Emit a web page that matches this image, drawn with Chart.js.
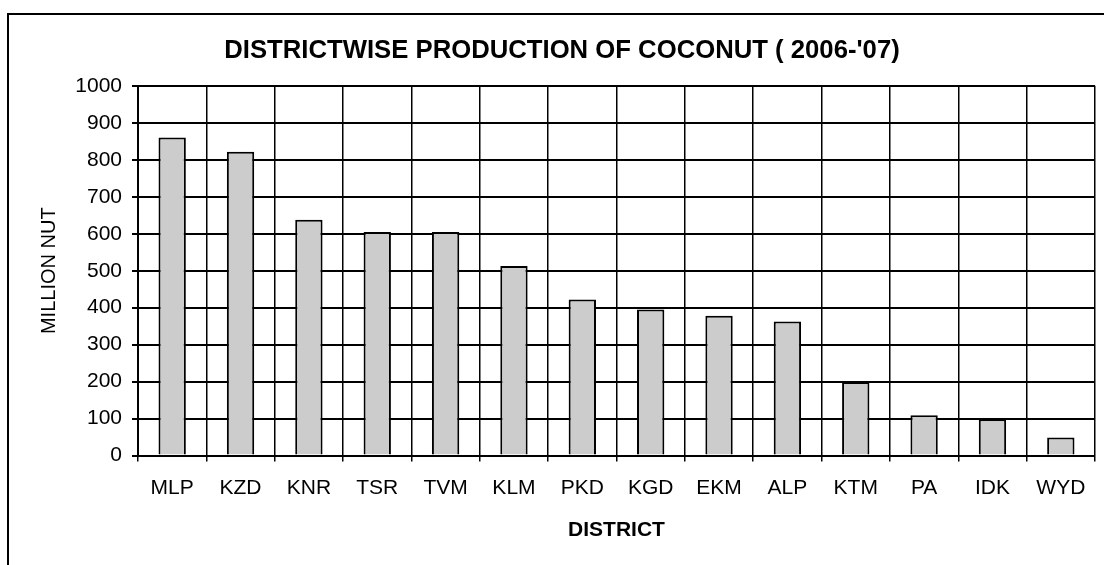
<!DOCTYPE html>
<html>
<head>
<meta charset="utf-8">
<script src="https://cdn.jsdelivr.net/npm/chart.js@4"></script>
<style>
    html, body {
        margin: 0;
        padding: 0;
        background: #ffffff;
        overflow: hidden;
    }
    #wrap {
        position: relative;
        width: 1104px;
        height: 565px;
    }
    #frame {
        position: absolute;
        left: 7px;
        top: 13px;
        width: 1200px;
        height: 700px;
        border: 2px solid #000000;
    }
    #chart {
        position: absolute;
        left: 0;
        top: 0;
    }
</style>
</head>
<body>
<div id="wrap">
    <div id="frame"></div>
    <canvas id="chart" width="1104" height="565"></canvas>
</div>
<script>
const districts = ["MLP", "KZD", "KNR", "TSR", "TVM", "KLM", "PKD", "KGD", "EKM", "ALP", "KTM", "PA", "IDK", "WYD"];
const production = [860, 822, 638, 605, 605, 513, 422, 395, 378, 363, 199, 109, 98, 49];
const yTicks = [0, 100, 200, 300, 400, 500, 600, 700, 800, 900, 1000];

const fontFamily = "'Liberation Sans', Arial, sans-serif";

const ctx = document.querySelector("#chart");

new Chart(ctx, {
    type: "bar",
    data: {
        labels: districts,
        datasets: [{
            data: production,
            backgroundColor: "#cccccc",
            borderColor: "#000000",
            borderWidth: 2,
            barPercentage: 0.4,
            categoryPercentage: 1
        }]
    },
    options: {
        responsive: false,
        animation: false,
        devicePixelRatio: 1,
        layout: {
            padding: { left: 29, right: 9, top: 0, bottom: 10 }
        },
        scales: {
            x: {
                grid: {
                    color: "#000000",
                    lineWidth: 1.5,
                    tickLength: 6,
                    offset: true
                },
                border: {
                    color: "#000000",
                    width: 2
                },
                ticks: {
                    color: "#000000",
                    padding: 14,
                    maxRotation: 0,
                    font: { family: fontFamily, size: 21 }
                },
                title: {
                    display: true,
                    text: "DISTRICT",
                    color: "#000000",
                    padding: { top: 3, bottom: 12 },
                    font: { family: fontFamily, size: 21, weight: "bold" }
                }
            },
            y: {
                min: 0,
                max: 1000,
                afterFit: (scale) => {
                    scale.width = 109;
                },
                afterBuildTicks: (scale) => {
                    scale.ticks = yTicks.map(v => ({ value: v }));
                },
                grid: {
                    color: "#000000",
                    lineWidth: 2,
                    tickLength: 6
                },
                border: {
                    color: "#000000",
                    width: 2
                },
                ticks: {
                    color: "#000000",
                    padding: 10,
                    font: { family: fontFamily, size: 21 },
                    callback: (value) => String(value)
                },
                title: {
                    display: true,
                    text: "MILLION NUT",
                    color: "#000000",
                    padding: { top: 8, bottom: 0 },
                    font: { family: fontFamily, size: 20 }
                }
            }
        },
        plugins: {
            legend: {
                display: false
            },
            tooltip: {
                enabled: false
            },
            title: {
                display: true,
                text: "DISTRICTWISE PRODUCTION OF COCONUT ( 2006-'07)",
                color: "#000000",
                padding: { top: 35, bottom: 20 },
                font: { family: fontFamily, size: 25.7, weight: "bold" }
            }
        }
    }
});
</script>
</body>
</html>
